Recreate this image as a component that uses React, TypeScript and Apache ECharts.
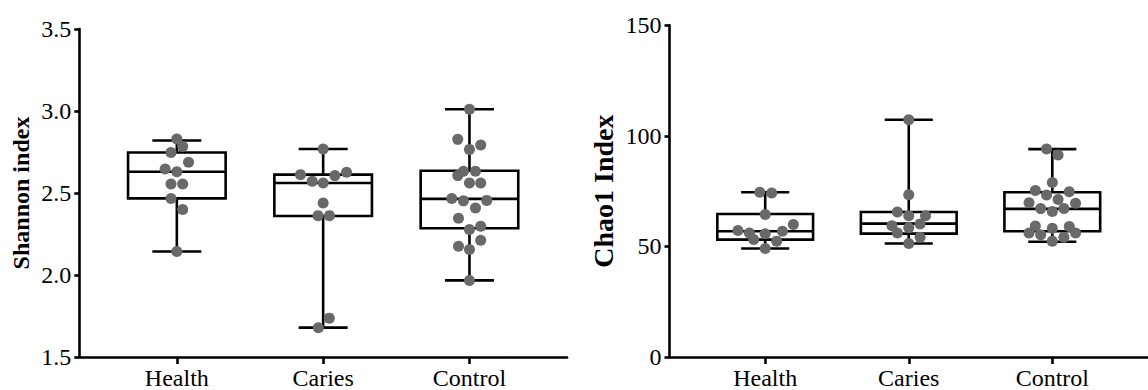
import React, { useEffect, useRef } from "react";
import * as echarts from "echarts";

// ---- Data ----
const categories = ["Health", "Caries", "Control"];

// Box statistics: [min, Q1, median, Q3, max]
const shannonStats = [
  [2.143, 2.467, 2.63, 2.747, 2.82],
  [1.679, 2.36, 2.561, 2.612, 2.768],
  [1.967, 2.285, 2.464, 2.636, 3.011],
];
const chao1Stats = [
  [49.05, 53.1, 56.9, 64.7, 74.5],
  [51.3, 55.8, 60.3, 65.6, 107.3],
  [52.1, 56.9, 67.0, 74.5, 94.0],
];

// Individual sample values per group
const shannonHealth = [2.829, 2.784, 2.747, 2.687, 2.646, 2.63, 2.555, 2.555, 2.467, 2.399, 2.143];
const shannonCaries = [2.768, 2.612, 2.571, 2.561, 2.606, 2.626, 2.439, 2.362, 2.362, 1.737, 1.679];
const shannonControl = [3.011, 2.827, 2.793, 2.766, 2.632, 2.632, 2.606, 2.561, 2.561, 2.467, 2.452, 2.455, 2.409, 2.346, 2.277, 2.297, 2.212, 2.175, 2.155, 1.967];

const chaoHealth = [74.5, 74.2, 64.4, 57.2, 56.1, 53.1, 55.7, 52.4, 56.9, 59.9, 49.05];
const chaoCaries = [107.3, 73.4, 65.6, 63.9, 63.9, 59.4, 58.4, 60.2, 56.1, 54.2, 51.3];
const chaoControl = [94.1, 91.3, 78.9, 75.3, 73.3, 74.7, 71.2, 69.8, 69.5, 67.1, 65.8, 67.2, 59.2, 59.0, 56.1, 56.1, 55.3, 58.2, 54.1, 52.4];

// Horizontal beeswarm offsets (category units) as drawn in the reference
const jShannonHealth = [0, 0.04, -0.04, 0.08, -0.08, 0, -0.04, 0.04, -0.04, 0.04, 0];
const jShannonCaries = [0, -0.155, -0.075, 0, 0.08, 0.16, 0, -0.035, 0.043, 0.042, -0.033];
const jShannonControl = [0, -0.08, 0.077, 0, -0.041, 0.041, -0.08, 0, 0.077, -0.121, -0.041, 0.118, 0.041, -0.075, 0, 0.077, 0.077, -0.075, 0, 0];
const jChaoHealth = [-0.038, 0.045, 0, -0.19, -0.11, -0.08, 0, 0.08, 0.12, 0.196, 0];
const jChaoCaries = [0, 0, -0.079, 0, 0.117, -0.117, 0, 0.079, -0.079, 0.079, 0];
const jChaoControl = [-0.04, 0.04, 0, -0.118, -0.04, 0.118, 0.04, -0.162, 0.162, -0.081, 0, 0.081, -0.118, 0.118, -0.162, 0.162, -0.081, 0, 0.081, 0];

const BOX_W = 0.667;
const CAP_W = 0.335;
const FONT = "'Liberation Serif', 'Times New Roman', serif";
const DOT = "#696969";

function pointsOf(groups: number[][], jitters: number[][]) {
  const out: number[][] = [];
  groups.forEach((vals, gi) => {
    vals.forEach((v, i) => out.push([gi + 1 + jitters[gi][i], v]));
  });
  return out;
}

function boxData(stats: number[][]) {
  return stats.map((s, i) => [i + 1, ...s]);
}

function renderBox(params: any, api: any) {
  const x = api.value(0);
  const pMin = api.coord([x, api.value(1)]);
  const pQ1 = api.coord([x, api.value(2)]);
  const pMed = api.coord([x, api.value(3)]);
  const pQ3 = api.coord([x, api.value(4)]);
  const pMax = api.coord([x, api.value(5)]);
  const hb = api.size([BOX_W, 0])[0] / 2;
  const hc = api.size([CAP_W, 0])[0] / 2;
  const cx = pMed[0];
  const st = { stroke: "#000", lineWidth: 2.6, fill: "none" };
  return {
    type: "group",
    children: [
      { type: "rect", shape: { x: cx - hb, y: pQ3[1], width: hb * 2, height: pQ1[1] - pQ3[1] }, style: st },
      { type: "line", shape: { x1: cx - hb, y1: pMed[1], x2: cx + hb, y2: pMed[1] }, style: st },
      { type: "line", shape: { x1: cx, y1: pQ3[1], x2: cx, y2: pMax[1] }, style: st },
      { type: "line", shape: { x1: cx, y1: pQ1[1], x2: cx, y2: pMin[1] }, style: st },
      { type: "line", shape: { x1: cx - hc, y1: pMax[1], x2: cx + hc, y2: pMax[1] }, style: st },
      { type: "line", shape: { x1: cx - hc, y1: pMin[1], x2: cx + hc, y2: pMin[1] }, style: st },
    ],
  };
}

function xAxisCfg(gridIndex: number) {
  return {
    type: "value",
    gridIndex,
    min: 1 / 3,
    max: 11 / 3,
    splitLine: { show: false },
    axisLine: { lineStyle: { color: "#000", width: 2.6 } },
    axisTick: { show: true, customValues: [1, 2, 3], length: 7, lineStyle: { color: "#000", width: 2.6 } },
    axisLabel: {
      customValues: [1, 2, 3],
      formatter: (v: number) => categories[Math.round(v) - 1] ?? "",
      color: "#000",
      fontFamily: FONT,
      fontSize: 24,
      margin: 9,
    },
  };
}

function yAxisCfg(gridIndex: number, min: number, max: number, interval: number, name: string, nameSize: number, nameGap: number, decimals: number) {
  return {
    type: "value",
    gridIndex,
    min,
    max,
    interval,
    name,
    nameLocation: "middle",
    nameGap,
    nameTextStyle: { fontFamily: FONT, fontWeight: "bold", fontSize: nameSize, color: "#000" },
    splitLine: { show: false },
    axisLine: { show: true, lineStyle: { color: "#000", width: 2.6 } },
    axisTick: { show: true, length: 5, lineStyle: { color: "#000", width: 2.6 } },
    axisLabel: {
      formatter: (v: number) => v.toFixed(decimals),
      color: "#000",
      fontFamily: FONT,
      fontSize: 24,
      margin: 8,
    },
  };
}

export default function App() {
  const ref = useRef<HTMLDivElement>(null);
  useEffect(() => {
    document.body.style.margin = "0";
    const chart = echarts.init(ref.current!, null, { renderer: "svg" });
    const shannonPts = pointsOf([shannonHealth, shannonCaries, shannonControl], [jShannonHealth, jShannonCaries, jShannonControl]);
    const chaoPts = pointsOf([chaoHealth, chaoCaries, chaoControl], [jChaoHealth, jChaoCaries, jChaoControl]);
    chart.setOption({
      animation: false,
      backgroundColor: "#fff",
      grid: [
        { left: 79.3, top: 29, width: 487.7, height: 328.5 },
        { left: 669.5, top: 25.3, width: 494.4, height: 332.2 },
      ],
      xAxis: [xAxisCfg(0), xAxisCfg(1)],
      yAxis: [
        yAxisCfg(0, 1.5, 3.5, 0.5, "Shannon index", 24, 46, 1),
        yAxisCfg(1, 0, 150, 50, "Chao1 Index", 28, 52, 0),
      ],
      series: [
        { type: "custom", xAxisIndex: 0, yAxisIndex: 0, renderItem: renderBox, data: boxData(shannonStats), encode: { x: 0, y: [1, 2, 3, 4, 5] }, z: 2, clip: false },
        { type: "scatter", xAxisIndex: 0, yAxisIndex: 0, data: shannonPts, symbolSize: 11, itemStyle: { color: DOT, opacity: 1 }, z: 3 },
        { type: "custom", xAxisIndex: 1, yAxisIndex: 1, renderItem: renderBox, data: boxData(chao1Stats), encode: { x: 0, y: [1, 2, 3, 4, 5] }, z: 2, clip: false },
        { type: "scatter", xAxisIndex: 1, yAxisIndex: 1, data: chaoPts, symbolSize: 11, itemStyle: { color: DOT, opacity: 1 }, z: 3 },
      ],
    });
    return () => chart.dispose();
  }, []);
  return <div ref={ref} style={{ width: 1148, height: 390 }} />;
}
